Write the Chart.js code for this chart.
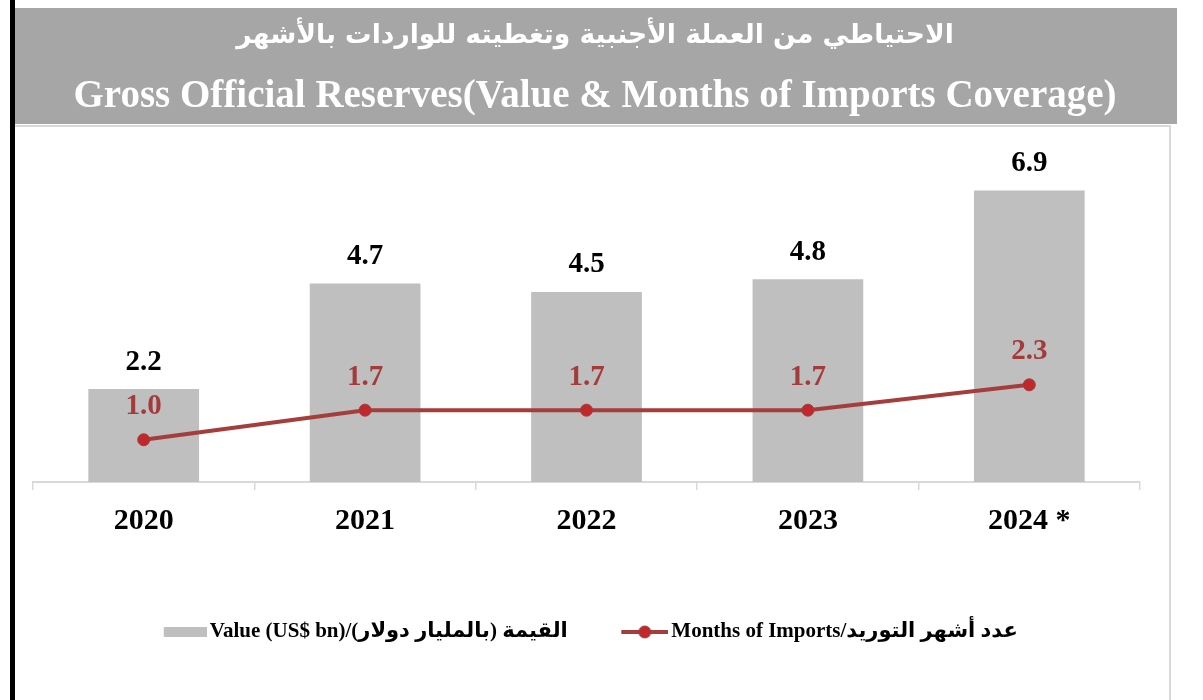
<!DOCTYPE html>
<html>
<head>
<meta charset="utf-8">
<script src="https://cdn.jsdelivr.net/npm/chart.js@4/dist/chart.umd.min.js"></script>
<style>
  html, body { margin: 0; padding: 0; background: #ffffff; }
  canvas { display: block; }
</style>
</head>
<body>
<canvas id="c" width="1203" height="700"></canvas>
<script>
// ---- data ----
const categories = ['2020', '2021', '2022', '2023', '2024 *'];
const reserveValues = [2.2, 4.7, 4.5, 4.8, 6.9];
const importMonths = [1.0, 1.7, 1.7, 1.7, 2.3];
const titleArabic = 'الاحتياطي من العملة الأجنبية وتغطيته للواردات بالأشهر';
const titleEnglish = 'Gross Official Reserves(Value & Months of Imports Coverage)';
const seriesNames = ['القيمة (بالمليار دولار)/Value (US$ bn)', 'عدد أشهر التوريد/Months of Imports'];

// ---- styles ----
const BAR_COLOR = '#bfbfbf';
const LINE_COLOR = '#a63d3d';
const POINT_COLOR = '#c0282d';
const LABEL_RED = '#a33b3b';
const SERIF = "'Liberation Serif', 'DejaVu Sans', serif";

// legend marker images
const PSW = 44;
function makeBarMarker() {
  const c = document.createElement('canvas');
  c.width = PSW + 15; c.height = 14;
  const g = c.getContext('2d');
  g.fillStyle = BAR_COLOR;
  g.fillRect(c.width - 43, 2, 43, 10);
  return c;
}
function makeLineMarker() {
  const c = document.createElement('canvas');
  c.width = PSW + 15; c.height = 14;
  const g = c.getContext('2d');
  g.strokeStyle = LINE_COLOR; g.lineWidth = 4;
  g.beginPath(); g.moveTo(c.width - 47, 7); g.lineTo(c.width, 7); g.stroke();
  g.fillStyle = POINT_COLOR; g.strokeStyle = LABEL_RED; g.lineWidth = 1;
  g.beginPath(); g.arc(c.width - 23.5, 7, 6, 0, Math.PI * 2); g.fill(); g.stroke();
  return c;
}
const markers = [makeBarMarker(), makeLineMarker()];

const framePlugin = {
  id: 'frame',
  beforeDraw(chart) {
    const ctx = chart.ctx;
    ctx.save();
    ctx.fillStyle = '#ffffff';
    ctx.fillRect(0, 0, chart.width, chart.height);
    ctx.fillStyle = '#a6a6a6';
    ctx.fillRect(15, 8, 1162, 116);
    ctx.fillStyle = '#000000';
    ctx.fillRect(10, 0, 5, chart.height);
    ctx.strokeStyle = '#d9d9d9';
    ctx.lineWidth = 2;
    ctx.beginPath();
    ctx.moveTo(15, 126); ctx.lineTo(1170, 126); ctx.lineTo(1170, chart.height);
    ctx.stroke();
    ctx.restore();
  }
};

const valueLabelPlugin = {
  id: 'valueLabels',
  afterDatasetsDraw(chart) {
    const ctx = chart.ctx;
    ctx.save();
    ctx.font = 'bold 29px ' + SERIF;
    ctx.textAlign = 'center';
    ctx.textBaseline = 'middle';
    chart.data.datasets.forEach((ds, i) => {
      const meta = chart.getDatasetMeta(i);
      meta.data.forEach((el, j) => {
        const v = ds.data[j];
        if (ds.type === 'bar') {
          ctx.fillStyle = '#000000';
          ctx.fillText(v.toFixed(1), el.x, el.y - 27);
        } else {
          ctx.fillStyle = LABEL_RED;
          ctx.fillText(v.toFixed(1), el.x, el.y - 33);
        }
      });
    });
    ctx.restore();
  }
};

new Chart(document.getElementById('c'), {
  data: {
    labels: categories,
    datasets: [
      {
        type: 'bar',
        label: seriesNames[0],
        data: reserveValues,
        backgroundColor: BAR_COLOR,
        categoryPercentage: 0.5,
        barPercentage: 1.0,
        yAxisID: 'y',
        order: 1
      },
      {
        type: 'line',
        label: seriesNames[1],
        data: importMonths,
        borderColor: LINE_COLOR,
        borderWidth: 4,
        pointRadius: 6,
        pointBackgroundColor: POINT_COLOR,
        pointBorderColor: LABEL_RED,
        pointBorderWidth: 1,
        tension: 0,
        yAxisID: 'y1',
        order: 0
      }
    ]
  },
  options: {
    responsive: false,
    animation: false,
    devicePixelRatio: 1,
    layout: { padding: { left: 30, right: 43, top: 0, bottom: 47.5 } },
    scales: {
      x: {
        offset: true,
        grid: { display: true, drawOnChartArea: false, drawTicks: true, tickLength: 8, color: '#d9d9d9', lineWidth: 1.5, offset: true },
        border: { display: true, color: '#d9d9d9', width: 2 },
        ticks: { color: '#000000', padding: 13, font: { family: SERIF, size: 30, weight: 'bold' } },
        afterFit(s) { s.height = 90.5; }
      },
      y: {
        position: 'left', min: 0, max: 8,
        grid: { display: false }, border: { display: false },
        ticks: { display: false },
        afterFit(s) { s.width = 3; }
      },
      y1: {
        position: 'right', min: 0, max: 8,
        grid: { display: false }, border: { display: false },
        ticks: { display: false },
        afterFit(s) { s.width = 20; }
      }
    },
    plugins: {
      title: {
        display: true,
        text: titleArabic,
        color: '#ffffff',
        font: { family: "'DejaVu Sans', sans-serif", size: 26.5, weight: 'bold', lineHeight: 1.2 },
        padding: { top: 20, bottom: 21.7 }
      },
      subtitle: {
        display: true,
        text: titleEnglish,
        color: '#ffffff',
        font: { family: SERIF, size: 39, weight: 'bold', lineHeight: 1.2 },
        padding: { top: 0, bottom: 23.7 }
      },
      legend: {
        display: true,
        position: 'bottom',
        fullSize: false,
        labels: {
          usePointStyle: true,
          pointStyleWidth: PSW,
          padding: 49,
          color: '#000000',
          font: { family: SERIF, size: 21, weight: 'bold' },
          sort: (a, b) => a.datasetIndex - b.datasetIndex,
          generateLabels(chart) {
            const items = Chart.defaults.plugins.legend.labels.generateLabels(chart);
            items.forEach(it => {
              it.pointStyle = markers[it.datasetIndex];
              it.lineWidth = 0;
              it.text = '\u202B' + it.text + '\u202C';
            });
            return items;
          }
        }
      },
      tooltip: { enabled: false }
    }
  },
  plugins: [framePlugin, valueLabelPlugin]
});
</script>
</body>
</html>
